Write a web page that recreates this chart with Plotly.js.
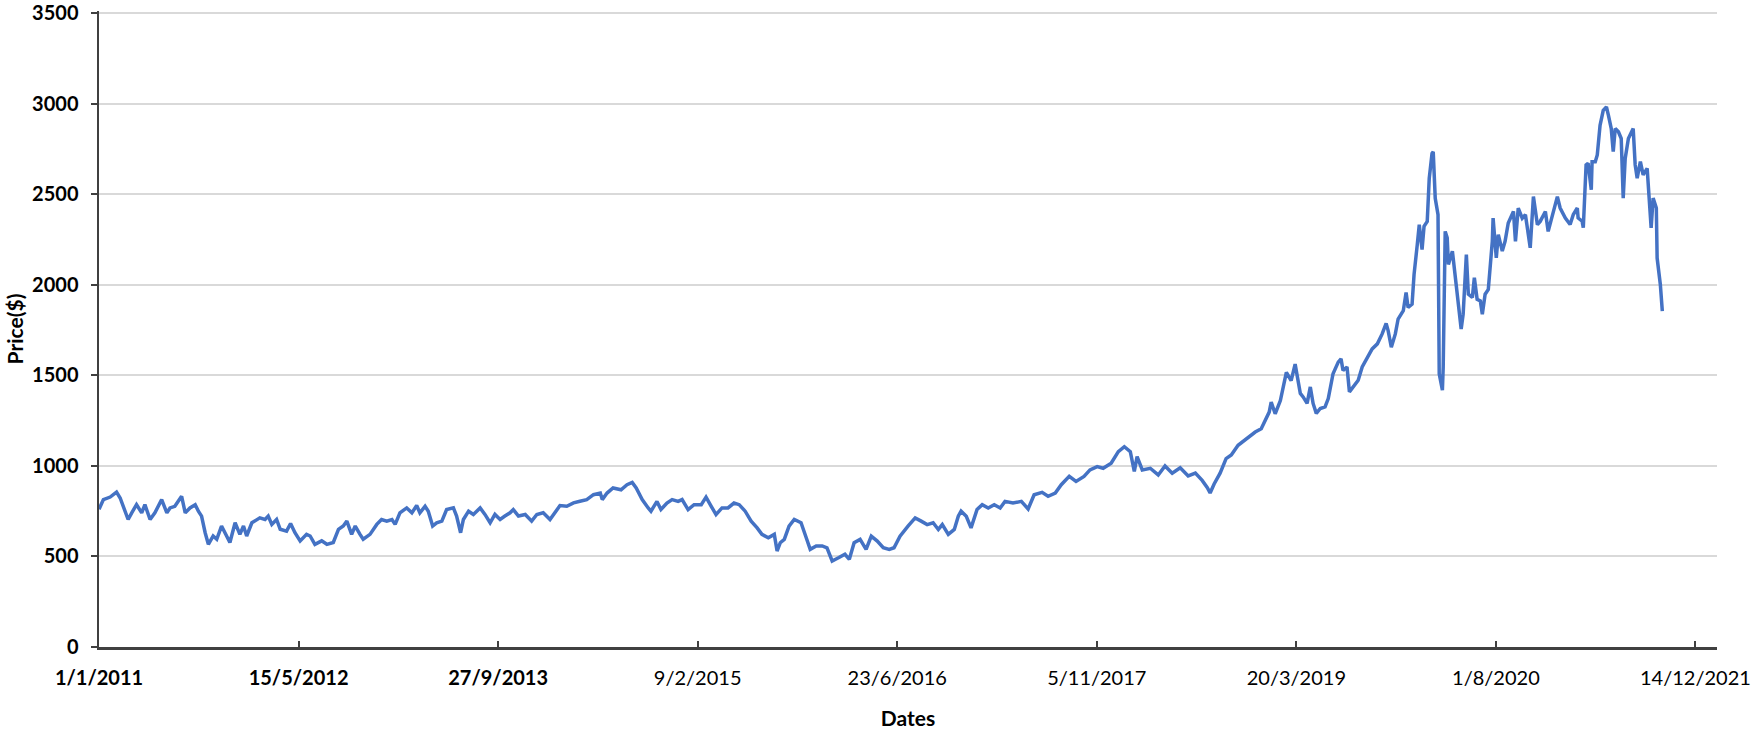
<!DOCTYPE html>
<html>
<head>
<meta charset="utf-8">
<script src="https://cdn.plot.ly/plotly-3.0.1.min.js"></script>
<style>
  html, body { margin: 0; padding: 0; background: #ffffff; }
  #chart { width: 1755px; height: 730px; }
</style>
</head>
<body>
<div id="chart"></div>
<script>
// Days since 1/1/2011
const dayOffsets = [
  0, 11, 28, 44, 53, 61, 73, 82, 94, 107, 115, 128, 140, 157, 170, 178, 190, 207, 216, 228,
  241, 249, 257, 266, 274, 286, 295, 307, 316, 328, 341, 353, 362, 370, 383, 403, 416, 424, 433, 445,
  454, 470, 480, 491, 504, 520, 529, 541, 558, 571, 587, 600, 612, 621, 633, 642, 654, 662, 679, 696,
  708, 721, 734, 742, 754, 771, 784, 796, 804, 817, 825, 836, 846, 859, 871, 888, 896, 906, 913, 926,
  938, 955, 967, 980, 992, 1005, 1017, 1030, 1038, 1051, 1068, 1084, 1097, 1113, 1130, 1143, 1155, 1172, 1189, 1205,
  1222, 1239, 1256, 1261, 1273, 1288, 1308, 1323, 1336, 1346, 1361, 1376, 1383, 1398, 1408, 1423, 1436, 1451, 1461, 1476,
  1491, 1509, 1521, 1534, 1546, 1561, 1576, 1591, 1604, 1619, 1634, 1649, 1661, 1677, 1692, 1699, 1707, 1717, 1729, 1742,
  1759, 1772, 1782, 1797, 1812, 1824, 1837, 1854, 1869, 1880, 1892, 1907, 1922, 1935, 1950, 1965, 1980, 1992, 2007, 2027,
  2045, 2060, 2075, 2090, 2103, 2113, 2128, 2143, 2153, 2160, 2173, 2185, 2200, 2213, 2228, 2243, 2258, 2270, 2290, 2311,
  2328, 2343, 2363, 2378, 2396, 2411, 2431, 2448, 2468, 2483, 2501, 2516, 2536, 2554, 2569, 2584, 2594, 2601, 2614, 2634,
  2654, 2671, 2689, 2709, 2729, 2747, 2764, 2777, 2784, 2794, 2809, 2824, 2837, 2854, 2874, 2897, 2912, 2922, 2932, 2937,
  2947, 2960, 2975, 2987, 2997, 3010, 3017, 3027, 3035, 3042, 3050, 3060, 3072, 3080, 3092, 3105, 3112, 3117, 3127, 3133,
  3143, 3155, 3165, 3178, 3190, 3203, 3215, 3225, 3230, 3238, 3248, 3255, 3268, 3275, 3280, 3290, 3295, 3303, 3308, 3315,
  3320, 3328, 3333, 3340, 3343, 3348, 3353, 3355, 3358, 3366, 3368, 3373, 3378, 3381, 3391, 3398, 3406, 3413, 3418, 3426,
  3431, 3441, 3446, 3453, 3461, 3466, 3473, 3481, 3491, 3493, 3501, 3506, 3516, 3523, 3531, 3544, 3549, 3556, 3566, 3574,
  3586, 3594, 3604, 3611, 3624, 3631, 3654, 3661, 3674, 3686, 3694, 3704, 3706, 3716, 3719, 3726, 3731, 3739, 3741, 3749,
  3754, 3761, 3769, 3777, 3782, 3789, 3794, 3799, 3807, 3814, 3819, 3824, 3832, 3842, 3844, 3849, 3854, 3862, 3869, 3879,
  3884, 3889, 3894, 3902, 3904, 3912, 3917
];

// Price($) at each of those days
const prices = [
  760, 814, 828, 855, 823, 777, 704, 741, 786, 741, 786, 704, 741, 814, 741, 768, 777, 832, 741, 768,
  786, 750, 723, 631, 567, 613, 595, 668, 631, 577, 686, 622, 668, 613, 686, 713, 704, 723, 677, 704,
  650, 640, 682, 631, 586, 622, 613, 567, 586, 567, 577, 650, 668, 695, 622, 668, 622, 595, 622, 677,
  704, 695, 704, 677, 741, 768, 741, 781, 741, 777, 750, 668, 686, 695, 759, 768, 723, 631, 704, 750,
  732, 768, 732, 686, 732, 704, 723, 741, 759, 723, 732, 695, 732, 741, 704, 741, 781, 777, 796, 805,
  814, 841, 850, 814, 850, 878, 868, 896, 909, 878, 814, 768, 750, 804, 759, 795, 814, 804, 814, 759,
  786, 786, 828, 777, 731, 768, 768, 795, 786, 750, 695, 658, 622, 603, 622, 530, 576, 594, 667, 704,
  686, 603, 539, 558, 558, 548, 475, 494, 512, 484, 576, 594, 539, 612, 585, 548, 539, 548, 612, 667,
  713, 695, 676, 686, 649, 676, 622, 649, 722, 750, 722, 658, 759, 786, 768, 786, 768, 804, 795, 804,
  762, 841, 854, 832, 850, 896, 942, 914, 942, 978, 996, 987, 1015, 1079, 1106, 1079, 969, 1051, 978, 987,
  950, 1000, 960, 990, 945, 960, 920, 880, 850, 900, 960, 1040, 1060, 1114, 1150, 1187, 1205, 1251, 1297, 1352,
  1288, 1361, 1517, 1471, 1562, 1400, 1381, 1345, 1436, 1345, 1290, 1317, 1326, 1372, 1509, 1573, 1591, 1527, 1546, 1409,
  1436, 1473, 1546, 1601, 1646, 1674, 1729, 1787, 1747, 1655, 1729, 1811, 1857, 1957, 1875, 1893, 2058, 2222, 2332, 2195,
  2323, 2350, 2588, 2725, 2734, 2478, 2423, 2387, 1509, 1418, 1546, 2295, 2259, 2112, 2186, 2058, 1911, 1756, 1838, 2167,
  1948, 1930, 2039, 1920, 1911, 1838, 1948, 1975, 2240, 2368, 2149, 2277, 2186, 2240, 2341, 2405, 2240, 2423, 2368, 2387,
  2204, 2487, 2332, 2350, 2405, 2295, 2487, 2424, 2369, 2333, 2388, 2424, 2369, 2351, 2315, 2662, 2671, 2525, 2680, 2680,
  2717, 2881, 2963, 2982, 2936, 2863, 2735, 2863, 2845, 2808, 2479, 2698, 2808, 2854, 2863, 2662, 2589, 2680, 2607, 2643,
  2479, 2315, 2479, 2424, 2148, 2002, 1855
];

// Axis tick labels (every 500 days)
const tickDates = ['2011-01-01', '2012-05-15', '2013-09-27', '2015-02-09', '2016-06-23',
                   '2017-11-05', '2019-03-20', '2020-08-01', '2021-12-14'];
const tickLabels = ['<b>1/1/2011</b>', '<b>15/5/2012</b>', '<b>27/9/2013</b>', '9/2/2015', '23/6/2016',
                    '5/11/2017', '20/3/2019', '1/8/2020', '14/12/2021'];
const yTicks = [0, 500, 1000, 1500, 2000, 2500, 3000, 3500];

const start = Date.UTC(2011, 0, 1);
const dates = dayOffsets.map(d => new Date(start + d * 86400000).toISOString().slice(0, 10));

const FONT = 'Lato, "Open Sans", sans-serif';

Plotly.newPlot('chart', [{
  x: dates,
  y: prices,
  type: 'scatter',
  mode: 'lines',
  line: { color: '#4472C4', width: 3.5 },
  hoverinfo: 'x+y'
}], {
  width: 1755,
  height: 730,
  margin: { l: 99, r: 38, t: 11, b: 83 },
  paper_bgcolor: '#ffffff',
  plot_bgcolor: '#ffffff',
  showlegend: false,
  font: { family: FONT, color: '#000000', size: 20 },
  xaxis: {
    type: 'date',
    range: ['2011-01-01', '2022-02-06'],
    tickmode: 'array',
    tickvals: tickDates,
    ticktext: tickLabels,
    ticks: 'inside',
    ticklen: 6,
    tickwidth: 2,
    tickcolor: '#404040',
    showline: true,
    linecolor: '#404040',
    linewidth: 2.5,
    showgrid: false,
    zeroline: false,
    ticklabelstandoff: 11,
    ticklabeloverflow: 'allow',
    tickfont: { family: FONT, size: 20, color: '#000000' },
    title: { text: 'Dates', font: { family: FONT, size: 21, color: '#000000', weight: 'bold' }, standoff: 24 }
  },
  yaxis: {
    range: [0, 3512],
    tickmode: 'array',
    tickvals: yTicks,
    ticktext: yTicks.map(String),
    ticks: 'outside',
    ticklen: 6,
    tickwidth: 2,
    tickcolor: '#404040',
    showline: true,
    linecolor: '#404040',
    linewidth: 2.5,
    showgrid: true,
    gridcolor: '#d9d9d9',
    gridwidth: 2,
    zeroline: false,
    ticklabelstandoff: 8,
    ticklabeloverflow: 'allow',
    tickfont: { family: FONT, size: 20, color: '#000000', weight: 'bold' },
    title: { text: 'Price($)', font: { family: FONT, size: 21, color: '#000000', weight: 'bold' }, standoff: 3 }
  }
}, { displayModeBar: false, staticPlot: true });
</script>
</body>
</html>
